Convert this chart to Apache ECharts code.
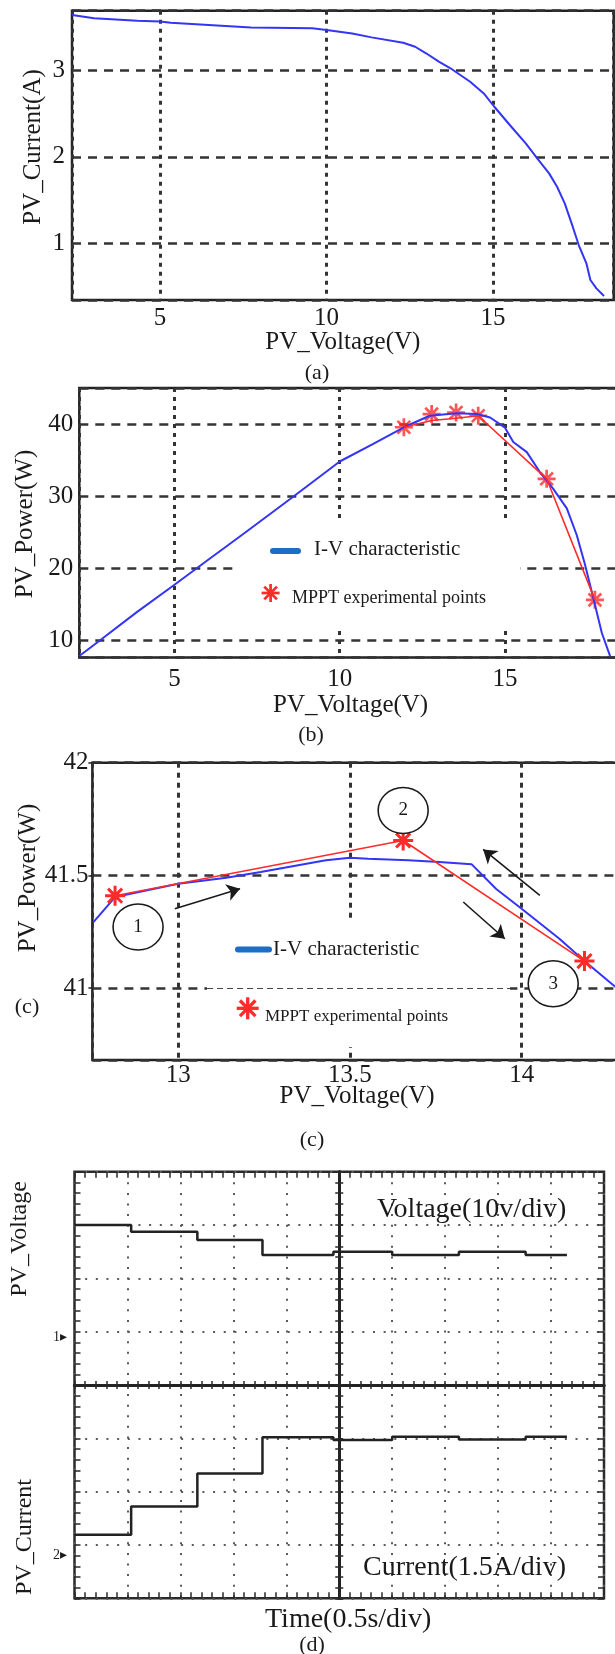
<!DOCTYPE html>
<html>
<head>
<meta charset="utf-8">
<script src="https://cdn.jsdelivr.net/npm/echarts@6.0.0/dist/echarts.min.js"></script>
<style>
  html, body { margin: 0; padding: 0; background: #fff; }
  #chart { width: 615px; height: 1654px; }
</style>
</head>
<body>
<div id="chart"></div>
<script>
// (a) I-V curve
const aVoltage = [2.36, 3.02, 4.32, 5.0, 5.32, 7.73, 9.57, 10.0, 10.77, 11.35, 12.3, 12.66, 13.0, 13.37, 13.72, 14.31, 14.72, 15.03, 15.5, 15.98, 16.33, 16.68, 16.92, 17.15, 17.39, 17.57, 17.8, 17.92, 18.1, 18.33];
const aCurrent = [3.633, 3.595, 3.568, 3.56, 3.545, 3.49, 3.48, 3.46, 3.42, 3.376, 3.314, 3.268, 3.19, 3.096, 3.02, 2.865, 2.73, 2.58, 2.367, 2.156, 1.98, 1.81, 1.656, 1.465, 1.196, 0.985, 0.774, 0.582, 0.486, 0.398];

// (b) P-V curve and MPPT track
const bVoltage = [2.12, 2.75, 3.86, 5.0, 6.0, 7.07, 8.5, 10.0, 11.0, 11.94, 12.72, 13.54, 14.14, 14.55, 15.0, 15.25, 15.66, 16.06, 16.46, 16.87, 17.17, 17.42, 17.67, 17.93, 18.18];
const bPower = [7.8, 10.0, 13.9, 17.7, 21.1, 24.7, 29.6, 34.8, 37.2, 39.55, 41.15, 41.5, 41.4, 40.9, 39.5, 37.5, 36.1, 33.3, 31.0, 28.3, 24.6, 20.5, 15.9, 11.0, 7.8];
const bTrackV = [11.94, 12.78, 13.52, 14.19, 16.26, 17.72];
const bTrackP = [39.55, 40.5, 40.8, 41.15, 32.4, 15.6];
const bStarV = [11.94, 12.78, 13.52, 14.19, 16.26, 17.72];
const bStarP = [39.55, 41.38, 41.6, 41.15, 32.4, 15.6];

// (c) zoom on the maximum power point
const cVoltage = [12.753, 12.816, 13.0, 13.14, 13.24, 13.43, 13.5, 13.553, 13.67, 13.76, 13.854, 13.926, 14.0, 14.11, 14.183, 14.256, 14.29];
const cPower = [41.293, 41.404, 41.463, 41.49, 41.515, 41.567, 41.578, 41.574, 41.567, 41.559, 41.55, 41.44, 41.352, 41.219, 41.12, 41.027, 40.985];
const cStarV = [12.816, 13.655, 14.183];
const cStarP = [41.41, 41.655, 41.12];
const cMarkV = [12.883, 13.655, 14.092];
const cMarkP = [41.271, 41.788, 41.019];
const cMarkText = ['1', '2', '3'];
const cArrowFrom = [[12.99, 41.352], [14.053, 41.411], [13.83, 41.382]];
const cArrowTo = [[13.18, 41.441], [13.888, 41.615], [13.951, 41.219]];

// (d) scope traces, in divisions
const dTime = [-5, -3.93, -2.68, -1.45, -0.11, 1.0, 2.26, 3.52, 4.3];
const dVolt = [3.0, 2.875, 2.72, 2.44, 2.5, 2.44, 2.5, 2.44, 2.44];
const dCurr = [-2.81, -2.28, -1.66, -0.98, -1.03, -0.97, -1.02, -0.97, -0.97];

const FONT = '"Liberation Serif", "Times New Roman", serif';
const INK = '#1a1a1a';
const BLUE = '#3434f6';
const RED = '#ff2a2a';
const STAR = 'path://M8.5,0L11.5,0L11.5,20L8.5,20Z M0,8.5L20,8.5L20,11.5L0,11.5Z M3.99,1.87L18.13,16.01L16.01,18.13L1.87,3.99Z M16.01,1.87L18.13,3.99L3.99,18.13L1.87,16.01Z';

const zip = (xs, ys) => xs.map((x, i) => [x, ys[i]]);

function plotGrid(left, top, width, height) {
  return { left, top, width, height, show: true, borderColor: '#222', borderWidth: 2.5,
    backgroundColor: 'transparent', outerBoundsMode: 'none' };
}

function plotAxis(gridIndex, min, max, step, o) {
  return {
    type: 'value', gridIndex, min, max, minInterval: step, maxInterval: step, splitNumber: 4,
    axisLine: { show: false },
    axisTick: { show: !!o.ticks, length: 4, lineStyle: { color: '#222', width: 1.5 } },
    axisLabel: { color: INK, fontFamily: FONT, fontSize: 25, margin: o.margin,
      showMinLabel: false, showMaxLabel: !!o.showMax },
    splitLine: { show: true, lineStyle: { color: '#333', width: o.lineWidth, type: o.dash } },
    name: o.name, nameLocation: 'middle', nameGap: o.nameGap,
    nameMoveOverlap: false,
    nameTextStyle: { color: INK, fontFamily: FONT, fontSize: 25 }
  };
}

function scopeAxis(gridIndex, dim, position, center) {
  const span = dim === 'x' ? 5 : 4;
  const tick = { color: '#2a2a2a', width: 1.5 };
  return {
    type: 'value', gridIndex, position, min: -span, max: span, interval: 1,
    axisLine: { show: center, onZero: center, lineStyle: { color: '#222', width: 3 } },
    axisTick: { show: true, inside: true, length: center ? 4 : 6, lineStyle: tick },
    minorTick: { show: true, splitNumber: 5, length: center ? 4 : 6, lineStyle: tick },
    axisLabel: { show: false },
    splitLine: {
      show: center && (position === 'bottom' || position === 'left'),
      lineStyle: { color: '#5a5a5a', width: 2, type: dim === 'x' ? [2, 8.59] : [2, 8.66] }
    }
  };
}

function text(str, x, y, size, o = {}) {
  return {
    type: 'text', x, y, rotation: o.rotation || 0, z: o.z || 5,
    style: { text: str, fill: INK, font: size + 'px ' + FONT,
      align: o.align || 'center', verticalAlign: 'middle',
      textAlign: o.align || 'center', textVerticalAlign: 'middle' }
  };
}

// legend asterisk: four thin bars turned round the centre
function star(cx, cy, size, z) {
  const w = size * 0.15;
  return { type: 'group', x: cx, y: cy, z,
    children: [0, 1, 2, 3].map(k => ({
      type: 'rect', rotation: k * Math.PI / 4, z,
      shape: { x: -size / 2, y: -w / 2, width: size, height: w },
      style: { fill: RED }
    })) };
}

const UP = Math.PI / 2;

const chart = echarts.init(document.getElementById('chart'), null, { renderer: 'canvas' });

chart.setOption({
  animation: false,
  backgroundColor: '#fff',
  grid: [
    plotGrid(72, 10.7, 541.7, 289.3),
    plotGrid(79.3, 388, 542.7, 269.5),
    plotGrid(92.4, 762.7, 529.5, 297.3),
    { left: 74.5, top: 1171.7, width: 529.5, height: 426.6, show: false, outerBoundsMode: 'none' },
    { left: 74.5, top: 1171.7, width: 529.5, height: 426.6, show: true, borderColor: '#2a2a2a',
      borderWidth: 2.5, backgroundColor: 'transparent', outerBoundsMode: 'none' }
  ],
  xAxis: [
    plotAxis(0, 2.357, 18.62, 5, { margin: 6, dash: [4, 5], lineWidth: 3, name: 'PV_Voltage(V)', nameGap: 30 }),
    plotAxis(1, 2.12, 18.54, 5, { margin: 9, dash: [4, 5], lineWidth: 3, name: 'PV_Voltage(V)', nameGap: 35 }),
    plotAxis(2, 12.75, 14.292, 0.5, { margin: 3, dash: [5, 5], lineWidth: 3, name: 'PV_Voltage(V)', nameGap: 24 }),
    scopeAxis(3, 'x', 'bottom', true),
    scopeAxis(3, 'x', 'top', true),
    scopeAxis(4, 'x', 'bottom', false),
    scopeAxis(4, 'x', 'top', false)
  ],
  yAxis: [
    plotAxis(0, 0.352, 3.683, 1, { margin: 7, dash: [9, 7], lineWidth: 2.5 }),
    plotAxis(1, 7.6, 45, 10, { margin: 6, dash: [9, 7], lineWidth: 2.5 }),
    plotAxis(2, 40.681, 42, 0.5, { margin: 4, dash: [9, 7], lineWidth: 2.5, showMax: true, ticks: true }),
    scopeAxis(3, 'y', 'left', true),
    scopeAxis(3, 'y', 'right', true),
    scopeAxis(4, 'y', 'left', false),
    scopeAxis(4, 'y', 'right', false)
  ],
  graphic: [
    // y axis titles
    text('PV_Current(A)', 33, 147, 25, { rotation: UP }),
    text('PV_Power(W)', 25, 524, 25, { rotation: UP }),
    text('PV_Power(W)', 28, 878, 25, { rotation: UP }),
    // captions
    text('(a)', 317, 373, 22),
    text('(b)', 311, 735, 22),
    text('(c)', 27, 1007, 22),
    text('(c)', 312, 1140, 22),
    text('(d)', 312, 1645, 22),
    // legend (b)
    { type: 'rect', z: 3, shape: { x: 237, y: 523, width: 283, height: 105 }, style: { fill: '#fff' } },
    { type: 'rect', z: 4, shape: { x: 270, y: 548, width: 31, height: 6, r: 3 }, style: { fill: '#1c6dc4' } },
    text('I-V characteristic', 314, 549, 21, { align: 'left' }),
    star(270.6, 593, 18, 4),
    text('MPPT experimental points', 292, 598, 18, { align: 'left' }),
    // legend (c)
    { type: 'rect', z: 1, shape: { x: 207, y: 922, width: 303, height: 125 }, style: { fill: '#fff' } },
    { type: 'rect', z: 4, shape: { x: 235, y: 946.5, width: 37, height: 6, r: 3 }, style: { fill: '#1c6dc4' } },
    text('I-V characteristic', 273, 949, 21, { align: 'left' }),
    star(247.7, 1008.3, 22, 4),
    text('MPPT experimental points', 265, 1017, 17, { align: 'left' }),
    // scope labels (d)
    text('Voltage(10v/div)', 377, 1210, 28, { align: 'left' }),
    text('Current(1.5A/div)', 363, 1568, 28, { align: 'left' }),
    text('Time(0.5s/div)', 265, 1620, 28, { align: 'left' }),
    text('PV_Voltage', 20, 1239, 24, { rotation: UP }),
    text('PV_Current', 25, 1537, 24, { rotation: UP }),
    text('1\u25B8', 60, 1337, 14),
    text('2\u25B8', 60, 1555, 14)
  ],
  series: [
    { type: 'line', xAxisIndex: 0, yAxisIndex: 0, data: zip(aVoltage, aCurrent), symbol: 'none',
      lineStyle: { color: BLUE, width: 2 } },
    { type: 'line', xAxisIndex: 1, yAxisIndex: 1, data: zip(bVoltage, bPower), symbol: 'none',
      lineStyle: { color: BLUE, width: 2 } },
    { type: 'line', xAxisIndex: 1, yAxisIndex: 1, data: zip(bTrackV, bTrackP), symbol: 'none',
      lineStyle: { color: RED, width: 1.6 } },
    { type: 'scatter', xAxisIndex: 1, yAxisIndex: 1, data: zip(bStarV, bStarP),
      symbol: STAR, symbolSize: 18, itemStyle: { color: RED } },
    { type: 'line', xAxisIndex: 2, yAxisIndex: 2, data: zip(cVoltage, cPower), symbol: 'none',
      lineStyle: { color: BLUE, width: 2 },
      markLine: { silent: true, symbol: ['none', 'none'], label: { show: false },
        lineStyle: { color: '#444', width: 1, type: [6, 4] },
        data: [[{ coord: [13.084, 41] }, { coord: [13.966, 41] }]] } },
    { type: 'line', xAxisIndex: 2, yAxisIndex: 2, data: zip(cStarV, cStarP),
      symbol: STAR, symbolSize: 20, showSymbol: true,
      itemStyle: { color: RED }, lineStyle: { color: RED, width: 1.6 },
      markPoint: { silent: true, symbol: 'circle', symbolSize: [50, 46],
        itemStyle: { color: '#fff', borderColor: INK, borderWidth: 1.5 },
        label: { show: true, position: 'inside', formatter: '{c}', color: INK, fontFamily: FONT, fontSize: 19 },
        data: cMarkV.map((v, i) => ({ coord: [v, cMarkP[i]], value: cMarkText[i] })) },
      markLine: { silent: true, symbol: ['none', 'arrow'], symbolSize: 13, label: { show: false },
        lineStyle: { color: INK, width: 1.6, type: 'solid' },
        data: cArrowFrom.map((p, i) => [{ coord: p }, { coord: cArrowTo[i] }]) } },
    { type: 'line', xAxisIndex: 3, yAxisIndex: 3, data: zip(dTime, dVolt), step: 'end', symbol: 'none',
      lineStyle: { color: '#222', width: 2.5 } },
    { type: 'line', xAxisIndex: 3, yAxisIndex: 3, data: zip(dTime, dCurr), step: 'end', symbol: 'none',
      lineStyle: { color: '#222', width: 2.5 } }
  ]
});
</script>
</body>
</html>
